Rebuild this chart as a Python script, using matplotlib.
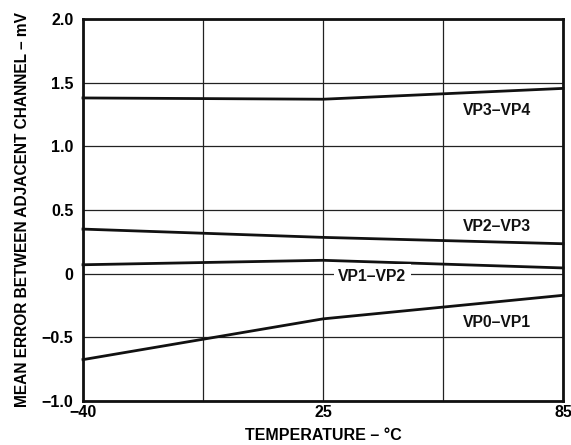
import numpy as np
import matplotlib
matplotlib.use("Agg")
import matplotlib.pyplot as plt

plt.rcParams['font.family'] = ['Liberation Sans', 'DejaVu Sans']
plt.rcParams['font.weight'] = 'bold'

# Mean error between adjacent channels vs temperature
temps = [-40, 25, 85]
vp3_vp4 = [1.38, 1.37, 1.455]
vp2_vp3 = [0.35, 0.285, 0.235]
vp1_vp2 = [0.07, 0.105, 0.045]
vp0_vp1 = [-0.675, -0.355, -0.17]

x_ticklabels = ['\u221240', '25', '85']
y_ticks = [-1.0, -0.5, 0, 0.5, 1.0, 1.5, 2.0]
y_ticklabels = ['\u22121.0', '\u22120.5', '0', '0.5', '1.0', '1.5', '2.0']

# temperatures sit on evenly spaced positions, with a grid line halfway between
xpos = np.arange(len(temps))
x_grid = np.arange(0, len(temps) - 0.5, 0.5)

W, H = 571, 445
fig = plt.figure(figsize=(W / 100, H / 100), dpi=100)
ax = fig.add_axes([83 / W, 1 - 401 / H, 480 / W, 382 / H])

ax.set_xlim(xpos[0], xpos[-1])
ax.set_ylim(-1.0, 2.0)

for xv in x_grid:
    ax.axvline(xv, color='#222222', lw=0.9, zorder=1)
for yv in y_ticks:
    ax.axhline(yv, color='#222222', lw=0.9, zorder=1)

for series in (vp3_vp4, vp2_vp3, vp1_vp2, vp0_vp1):
    ax.plot(xpos, series, color='#111111', lw=2.0, zorder=3, clip_on=False)

lbl = dict(fontsize=11.3, fontweight='bold', ha='center', va='center', color='#111111')
ax.text(1.725, 1.285, 'VP3\u2013VP4', **lbl)
ax.text(1.725, 0.37, 'VP2\u2013VP3', **lbl)
ax.text(1.725, -0.38, 'VP0\u2013VP1', **lbl)
ax.text(1.205, -0.02, 'VP1\u2013VP2', zorder=4,
        bbox=dict(facecolor='white', edgecolor='none', pad=3), **lbl)

ax.set_xticks(xpos)
ax.set_xticklabels(x_ticklabels)
ax.set_yticks(y_ticks)
ax.set_yticklabels(y_ticklabels)
ax.tick_params(length=0, labelsize=11.5)
ax.tick_params(axis='x', pad=3)
ax.tick_params(axis='y', pad=7)
for t in ax.get_xticklabels() + ax.get_yticklabels():
    t.set_fontweight('bold')

for sp in ax.spines.values():
    sp.set_linewidth(2.0)
    sp.set_color('#111111')

ax.set_xlabel('TEMPERATURE \u2013 \u00b0C', fontsize=11.5, fontweight='bold', labelpad=5.5)
ax.set_ylabel('MEAN ERROR BETWEEN ADJACENT CHANNEL \u2013 mV', fontsize=11.2,
              fontweight='bold', labelpad=8)

fig.savefig('out.png', dpi=100)
